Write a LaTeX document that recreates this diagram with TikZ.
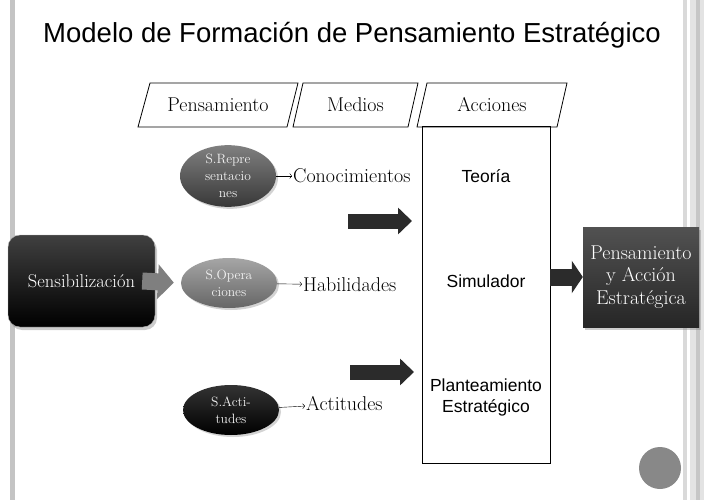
\documentclass[tikz,border=0pt]{standalone}
\usepackage{fontspec}
\usetikzlibrary{shapes.geometric,arrows.meta,shadows}
\newfontfamily\arialfont{Liberation Sans}
\definecolor{edgegray}{HTML}{C4C4C4}
\definecolor{dotgray}{HTML}{888888}
\definecolor{arrowgray}{HTML}{7F7F7F}
\definecolor{darkarrow}{HTML}{2B2B2B}

\begin{document}
\begin{tikzpicture}[x=1pt,y=-1pt,
  tag/.style={inner sep=0pt,font=\fontsize{20}{22}\selectfont},
  slant/.style={thick,line join=miter},
  blob/.style={ellipse,minimum width=96pt,minimum height=52pt,inner sep=0pt,
    align=center,text=white!95!black,font=\fontsize{13.5}{17}\selectfont,
    drop shadow={opacity=.35,shadow xshift=2pt,shadow yshift=-2pt}},
  word/.style={inner sep=1pt,font=\fontsize{20}{22}\selectfont},
  sans/.style={font=\arialfont\fontsize{17.5}{21}\selectfont,align=center},
  fat/.style={line width=15pt,darkarrow,-{Triangle[length=14pt,width=26pt]}}]

\useasboundingbox (0,0) rectangle (704,500);

% slide frame
\fill[edgegray] (10,0) rectangle (15,500);
\fill[gray!30] (683,0) rectangle (687,500);
\fill[gray!22] (690,0) rectangle (704,500);
\fill[gray!45] (696,0) rectangle (700,500);

\node (title) at (352,35) {\arialfont\fontsize{27.5}{30}\selectfont Modelo de Formación de Pensamiento Estratégico};

% column heads
\node[tag] (pens) at (218,105) {Pensamiento};
\node[tag] (med) at (355.5,105) {Medios};
\node[tag] (acc) at (492,105) {Acciones};
\draw[slant] (pens.center) ++(-68,-22) -- ++(148,0) -- ++(-11,44) -- ++(-149,0) -- cycle;
\draw[slant] (med.center) ++(-52.5,-22) -- ++(115,0) -- ++(-10,44) -- ++(-115,0) -- cycle;
\draw[slant] (acc.center) ++(-65,-22) -- ++(140,0) -- ++(-10,44) -- ++(-140,0) -- cycle;
\node[draw,thick,minimum width=128pt,minimum height=337pt,inner sep=0pt] (col) at (486,295) {};

\node[sans] (teo) at (486,176) {Teoría};
\node[sans] (sim) at (486,281) {Simulador};
\node[sans] (plan) at (486,397) {Planteamiento\\Estratégico};

% left side
\node[rounded corners=12pt,draw=gray!60,top color=black!75,bottom color=black,
  minimum width=147pt,minimum height=92pt,text=white,font=\fontsize{18.5}{22}\selectfont,
  drop shadow={opacity=.4,shadow xshift=2pt,shadow yshift=-3pt}] (sens) at (81.5,281) {Sensibilización};

\node[blob,top color=black!50,bottom color=black!78] (rep) at (228,176) {S.Repre\\sentacio\\nes};
\node[blob,top color=black!35,bottom color=black!60,minimum height=50pt] (ops) at (229,283) {S.Opera\\ciones};
\node[blob,top color=black!80,bottom color=black,minimum height=50pt] (act) at (231,410) {S.Acti-\\tudes};

\node[word,anchor=west] (con) at (292,176) {Conocimientos};
\node[word,anchor=west] (hab) at (302,285) {Habilidades};
\node[word,anchor=west] (acti) at (305,404) {Actitudes};

\draw[->] (rep) -- (con);
\draw[->] (ops) -- (hab);
\draw[->] (act) -- (acti);

\draw[line width=17pt,arrowgray,-{Triangle[length=16pt,width=34pt]},shorten >=7pt]
  ([xshift=-13pt]sens.east) -- (ops.west);

% right side
\node[top color=black!68,bottom color=black!85,minimum width=116pt,minimum height=100pt,
  text=white,align=center,font=\fontsize{20}{22.5}\selectfont,inner sep=1pt,
  drop shadow={opacity=.4,shadow xshift=2pt,shadow yshift=-3pt}] (goal) at (641,277)
  {Pensamiento\\y Acción\\Estratégica};

\coordinate (t1) at (348,221);
\coordinate (h1) at (412,221);
\coordinate (t2) at (350,372);
\coordinate (h2) at (414,372);
\draw[fat] (t1) -- (h1);
\draw[fat] (t2) -- (h2);
\draw[fat,line width=17pt,-{Triangle[length=11pt,width=32pt]}] (goal.west -| col.east) -- (goal.west);

\fill[dotgray] (660,468) circle (21pt);
\end{tikzpicture}
\end{document}
